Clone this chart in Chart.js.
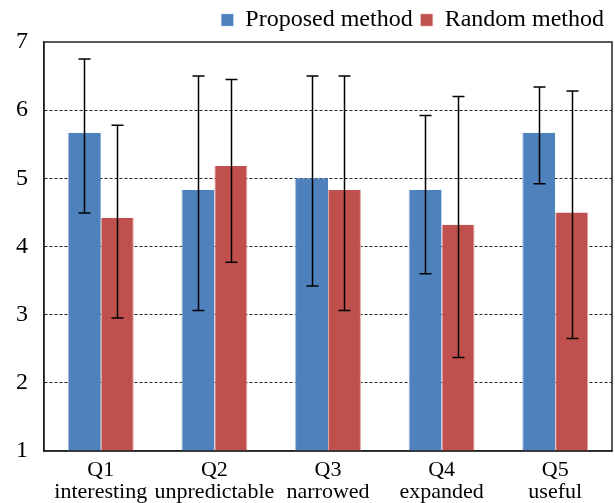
<!DOCTYPE html>
<html lang="en">
<head>
<meta charset="UTF-8" />
<title>Proposed vs Random method</title>
<style>
  html, body { margin: 0; padding: 0; background: #fff; }
  #wrap { width: 615px; height: 503px; position: relative; }
</style>
</head>
<body>
<div id="wrap"><canvas id="chart"></canvas></div>
<script src="https://cdn.jsdelivr.net/npm/chart.js@4.4.2/dist/chart.umd.min.js"></script>
<script>
  // Values
  const questions = [["Q1", "interesting"], ["Q2", "unpredictable"], ["Q3", "narrowed"], ["Q4", "expanded"], ["Q5", "useful"]];
  const proposedMean = [5.67, 4.83, 5.0, 4.83, 5.67];
  const proposedHigh = [6.75, 6.5, 6.5, 5.92, 6.34];
  const proposedLow = [4.49, 3.06, 3.42, 3.6, 4.92];
  const randomMean = [4.42, 5.18, 4.83, 4.32, 4.5];
  const randomHigh = [5.78, 6.45, 6.5, 6.2, 6.28];
  const randomLow = [2.95, 3.77, 3.06, 2.37, 2.65];
  const yTicks = [1, 2, 3, 4, 5, 6, 7];

  const serif = "'Liberation Serif', 'Times New Roman', serif";

  // error bars drawn from the high/low arrays through the y scale
  const errorBars = {
    id: "errorBars",
    afterDatasetsDraw(chart) {
      const { ctx } = chart;
      const y = chart.scales.y;
      const ranges = [[proposedLow, proposedHigh], [randomLow, randomHigh]];
      ctx.save();
      ctx.strokeStyle = "#000";
      ctx.lineWidth = 1.5;
      chart.data.datasets.forEach((ds, di) => {
        const meta = chart.getDatasetMeta(di);
        meta.data.forEach((bar, i) => {
          const x = Math.round(bar.x) + 0.5;
          const top = y.getPixelForValue(ranges[di][1][i]);
          const bot = y.getPixelForValue(ranges[di][0][i]);
          ctx.beginPath();
          ctx.moveTo(x, top);
          ctx.lineTo(x, bot);
          ctx.moveTo(x - 6, top);
          ctx.lineTo(x + 6, top);
          ctx.moveTo(x - 6, bot);
          ctx.lineTo(x + 6, bot);
          ctx.stroke();
        });
      });
      ctx.restore();
    },
  };

  // solid frame round the plot area
  const frame = {
    id: "frame",
    afterDraw(chart) {
      const { ctx, chartArea: a } = chart;
      ctx.save();
      ctx.strokeStyle = "#222";
      ctx.lineWidth = 1.5;
      ctx.strokeRect(a.left, a.top, a.right - a.left, a.bottom - a.top);
      ctx.restore();
    },
  };

  new Chart(document.getElementById("chart"), {
    type: "bar",
    data: {
      labels: questions,
      datasets: [
        {
          label: "Proposed method",
          data: proposedMean,
          backgroundColor: "#4F81BD",
          borderColor: "#9DB8DA",
          borderWidth: { left: 1, right: 0, top: 0, bottom: 0 },
          categoryPercentage: 0.58,
          barPercentage: 1.0,
        },
        {
          label: "Random method",
          data: randomMean,
          backgroundColor: "#C0504D",
          borderColor: "#E3A6A4",
          borderWidth: { left: 1, right: 1, top: 0, bottom: 0 },
          categoryPercentage: 0.58,
          barPercentage: 1.0,
        },
      ],
    },
    options: {
      responsive: true,
      maintainAspectRatio: false,
      animation: false,
      layout: { padding: { left: 0, right: 3, top: 0, bottom: 0 } },
      plugins: {
        legend: {
          position: "top",
          align: "end",
          labels: {
            color: "#000",
            boxWidth: 12,
            boxHeight: 12,
            padding: 8,
            font: { family: serif, size: 24 },
          },
        },
        tooltip: { enabled: false },
      },
      scales: {
        x: {
          grid: { display: false },
          border: { display: true, color: "#222", width: 1.5 },
          ticks: {
            color: "#000",
            maxRotation: 0,
            autoSkip: false,
            padding: 0,
            font: { family: serif, size: 22, lineHeight: 1.0 },
          },
        },
        y: {
          min: 1,
          max: 7,
          afterBuildTicks(axis) {
            axis.ticks = yTicks.map((v) => ({ value: v }));
          },
          grid: {
            drawTicks: false,
            color: (c) => (c.tick && (c.tick.value === 1 || c.tick.value === 7) ? "rgba(0,0,0,0)" : "#222"),
            lineWidth: 1,
          },
          border: { display: true, color: "#222", width: 1.5, dash: [3, 2] },
          ticks: {
            color: "#000",
            padding: 16,
            font: { family: serif, size: 24 },
          },
        },
      },
    },
    plugins: [errorBars, frame],
  });
</script>
</body>
</html>
